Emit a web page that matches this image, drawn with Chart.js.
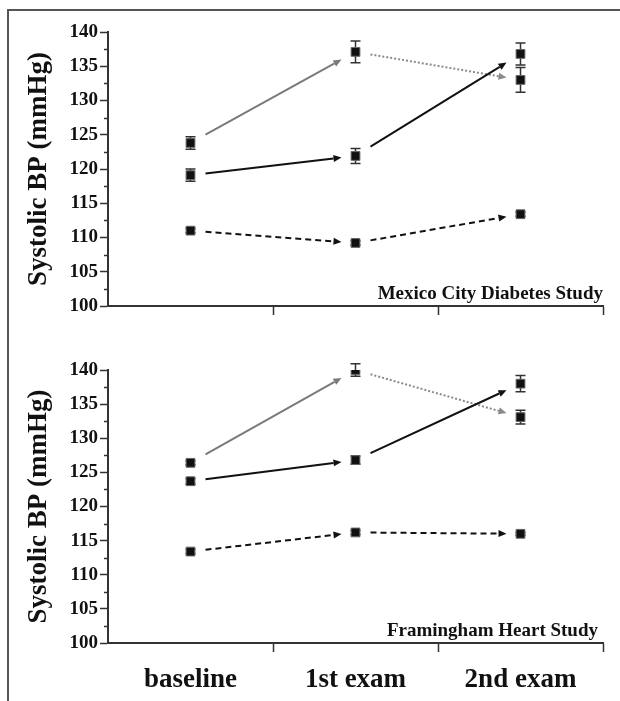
<!DOCTYPE html>
<html>
<head>
<meta charset="utf-8">
<script src="https://cdn.jsdelivr.net/npm/chart.js@4.4.1/dist/chart.umd.min.js"></script>
<style>
    body { margin: 0; background: #fff; }
    #page { position: relative; width: 620px; height: 701px; overflow: hidden; }
    #frame { position: absolute; left: 7px; top: 9px; width: 640px; height: 720px;
             border-left: 2px solid #555; border-top: 2px solid #555; }
    #topChart { position: absolute; left: 0; top: 0; }
    #bottomChart { position: absolute; left: 0; top: 330px; }
</style>
</head>
<body>
<div id="page">
    <div id="frame"></div>
    <canvas id="topChart" width="620" height="330"></canvas>
    <canvas id="bottomChart" width="620" height="371"></canvas>
</div>
<script>
    // Data
    const categories = ['baseline', '1st exam', '2nd exam'];
    const yTickMin = 100;
    const yTickMax = 140;
    const yTickStep = 5;

    // Mexico City Diabetes Study
    const mexicoHigh = [123.8, 137.1, 133.0];
    const mexicoHighErr = [0.9, 1.6, 1.8];
    const mexicoMid = [119.1, 121.9, 136.8];
    const mexicoMidErr = [0.9, 1.1, 1.6];
    const mexicoLow = [111.0, 109.2, 113.4];
    const mexicoLowErr = [0.3, 0.3, 0.3];

    // Framingham Heart Study
    const framHigh = [126.4, 140.0, 133.1];
    const framHighErr = [0.3, 0.9, 1.0];
    const framMid = [123.7, 126.8, 138.0];
    const framMidErr = [0.4, 0.6, 1.2];
    const framLow = [113.4, 116.2, 116.0];
    const framLowErr = [0.3, 0.3, 0.2];

    const serif = "'Liberation Serif', 'Times New Roman', serif";
    const axisColor = '#333';

    // segment styles for the arrows between exams
    const graySolid = { color: '#7a7a7a', dash: [] };
    const grayDotted = { color: '#8a8a8a', dash: [2, 2] };
    const blackSolid = { color: '#111', dash: [] };
    const blackDashed = { color: '#111', dash: [6, 4] };

    function makeDataset(values, errors, segments) {
        return {
            data: values,
            errors: errors,
            segments: segments,
            showLine: false,
            pointStyle: 'rect',
            pointRadius: 6.2,
            pointHoverRadius: 6.2,
            backgroundColor: '#111',
            borderColor: '#666',
            borderWidth: 1
        };
    }

    // error bars drawn under the squares
    const errorBarPlugin = {
        id: 'errorBars',
        beforeDatasetsDraw(chart) {
            const ctx = chart.ctx;
            const y = chart.scales.y;
            ctx.save();
            ctx.strokeStyle = '#333';
            ctx.lineWidth = 1.5;
            chart.data.datasets.forEach((ds, i) => {
                const meta = chart.getDatasetMeta(i);
                meta.data.forEach((pt, j) => {
                    const top = y.getPixelForValue(ds.data[j] + ds.errors[j]);
                    const bot = y.getPixelForValue(ds.data[j] - ds.errors[j]);
                    ctx.beginPath();
                    ctx.moveTo(pt.x, top);
                    ctx.lineTo(pt.x, bot);
                    ctx.moveTo(pt.x - 5, top);
                    ctx.lineTo(pt.x + 5, top);
                    ctx.moveTo(pt.x - 5, bot);
                    ctx.lineTo(pt.x + 5, bot);
                    ctx.stroke();
                });
            });
            ctx.restore();
        }
    };

    // arrows between consecutive points, with a gap at each end
    const arrowPlugin = {
        id: 'arrows',
        afterDatasetsDraw(chart) {
            const ctx = chart.ctx;
            ctx.save();
            chart.data.datasets.forEach((ds, i) => {
                const pts = chart.getDatasetMeta(i).data;
                for (let j = 0; j < pts.length - 1; j++) {
                    const a = pts[j], b = pts[j + 1];
                    const style = ds.segments[j];
                    const dx = b.x - a.x;
                    const t0 = 15 / dx, t1 = 1 - 14 / dx;
                    const sx = a.x + (b.x - a.x) * t0, sy = a.y + (b.y - a.y) * t0;
                    const ex = a.x + (b.x - a.x) * t1, ey = a.y + (b.y - a.y) * t1;
                    const ang = Math.atan2(ey - sy, ex - sx);
                    const headLen = 8, headW = 3.5;
                    const bx = ex - Math.cos(ang) * headLen;
                    const by = ey - Math.sin(ang) * headLen;

                    ctx.strokeStyle = style.color;
                    ctx.fillStyle = style.color;
                    ctx.lineWidth = 2;
                    ctx.setLineDash(style.dash);
                    ctx.beginPath();
                    ctx.moveTo(sx, sy);
                    ctx.lineTo(bx, by);
                    ctx.stroke();

                    ctx.setLineDash([]);
                    ctx.beginPath();
                    ctx.moveTo(ex, ey);
                    ctx.lineTo(bx - Math.sin(ang) * headW, by + Math.cos(ang) * headW);
                    ctx.lineTo(bx + Math.sin(ang) * headW, by - Math.cos(ang) * headW);
                    ctx.closePath();
                    ctx.fill();
                }
            });
            ctx.restore();
        }
    };

    // minor ticks on the y axis every 2.5
    const minorTickPlugin = {
        id: 'minorTicks',
        afterDraw(chart) {
            const y = chart.scales.y;
            const ctx = chart.ctx;
            ctx.save();
            ctx.strokeStyle = axisColor;
            ctx.lineWidth = 1.5;
            for (let v = yTickMin + yTickStep / 2; v < yTickMax; v += yTickStep) {
                const py = Math.round(y.getPixelForValue(v)) + 0.5;
                ctx.beginPath();
                ctx.moveTo(y.right - 4, py);
                ctx.lineTo(y.right, py);
                ctx.stroke();
            }
            ctx.restore();
        }
    };

    // study name at the lower right of the plot area
    const studyLabelPlugin = {
        id: 'studyLabel',
        afterDraw(chart, args, opts) {
            const ctx = chart.ctx;
            const area = chart.chartArea;
            ctx.save();
            ctx.font = 'bold 19px ' + serif;
            ctx.fillStyle = '#111';
            ctx.textAlign = 'right';
            ctx.textBaseline = 'middle';
            ctx.fillText(opts.text, area.right - opts.dx, area.bottom - opts.dy);
            ctx.restore();
        }
    };

    function makeChart(canvasId, sets, label, showLabels, topPad, xHeight, labelDx) {
        return new Chart(document.getElementById(canvasId), {
            type: 'line',
            data: { labels: categories, datasets: sets },
            plugins: [errorBarPlugin, arrowPlugin, minorTickPlugin, studyLabelPlugin],
            options: {
                responsive: false,
                animation: false,
                layout: { padding: { top: topPad, right: 17, left: 0, bottom: 0 } },
                plugins: {
                    legend: { display: false },
                    tooltip: { enabled: false },
                    studyLabel: { text: label, dx: labelDx, dy: 12 }
                },
                scales: {
                    x: {
                        type: 'category',
                        offset: true,
                        grid: {
                            offset: true,
                            drawOnChartArea: false,
                            drawTicks: true,
                            tickLength: 9,
                            tickWidth: 1.5,
                            tickColor: c => c.index === 0 ? 'rgba(0,0,0,0)' : axisColor
                        },
                        border: { display: true, color: axisColor, width: 2 },
                        ticks: {
                            display: showLabels,
                            padding: 12,
                            color: '#111',
                            font: { family: serif, size: 27, weight: 'bold' }
                        },
                        afterFit: s => { s.height = xHeight; }
                    },
                    y: {
                        min: yTickMin,
                        max: yTickMax,
                        grid: {
                            drawOnChartArea: false,
                            drawTicks: true,
                            tickLength: 8,
                            tickWidth: 1.5,
                            tickColor: axisColor
                        },
                        border: { display: true, color: axisColor, width: 2 },
                        ticks: {
                            stepSize: yTickStep,
                            padding: 2,
                            color: '#111',
                            font: { family: serif, size: 19, weight: 'bold' }
                        },
                        title: {
                            display: true,
                            text: 'Systolic BP (mmHg)',
                            color: '#111',
                            padding: { top: 23, bottom: 0 },
                            font: { family: serif, size: 27, weight: 'bold' }
                        },
                        afterFit: s => { s.width = 108; }
                    }
                }
            }
        });
    }

    makeChart('topChart', [
        makeDataset(mexicoHigh, mexicoHighErr, [graySolid, grayDotted]),
        makeDataset(mexicoMid, mexicoMidErr, [blackSolid, blackSolid]),
        makeDataset(mexicoLow, mexicoLowErr, [blackDashed, blackDashed])
    ], 'Mexico City Diabetes Study', false, 32, 24, 0);

    makeChart('bottomChart', [
        makeDataset(framHigh, framHighErr, [graySolid, grayDotted]),
        makeDataset(framMid, framMidErr, [blackSolid, blackSolid]),
        makeDataset(framLow, framLowErr, [blackDashed, blackDashed])
    ], 'Framingham Heart Study', true, 40, 58, 5);
</script>
</body>
</html>
